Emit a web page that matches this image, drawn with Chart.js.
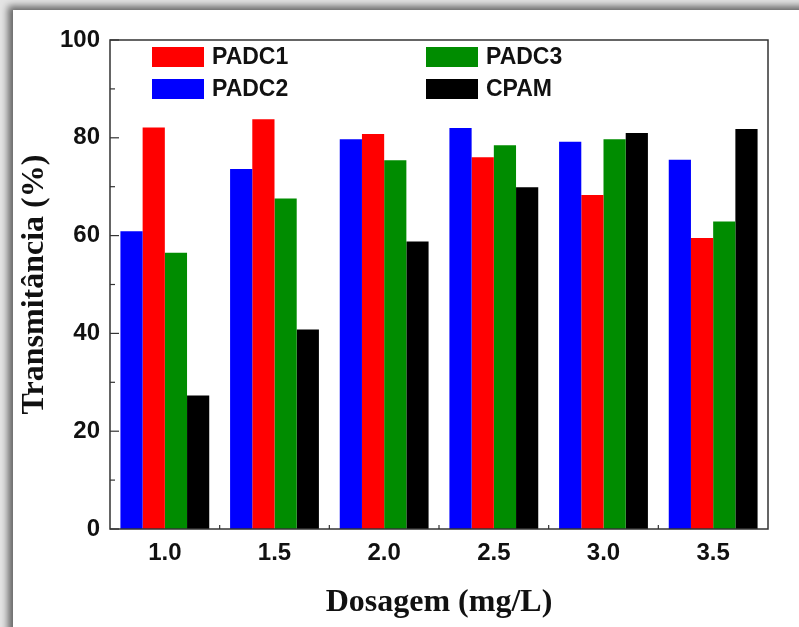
<!DOCTYPE html>
<html>
<head>
<meta charset="utf-8">
<script src="https://cdn.jsdelivr.net/npm/chart.js@4"></script>
<style>
  html, body { margin: 0; padding: 0; background: #e4e4e4; overflow: hidden; }
  #frame {
    position: absolute; left: 13px; top: 10px; width: 800px; height: 640px;
    background: #fff; box-shadow: -5px -4px 7px rgba(0,0,0,0.55);
  }
  #myChart { position: absolute; left: 0; top: 0; }
</style>
</head>
<body>
<div id="frame"></div>
<canvas id="myChart" width="799" height="627"></canvas>
<script>
var dosages = ['1.0', '1.5', '2.0', '2.5', '3.0', '3.5'];
var padc2 = [60.9, 73.6, 79.7, 82.0, 79.2, 75.5];
var padc1 = [82.1, 83.8, 80.8, 76.0, 68.3, 59.5];
var padc3 = [56.5, 67.6, 75.4, 78.5, 79.7, 62.9];
var cpam = [27.3, 40.8, 58.8, 69.9, 81.0, 81.8];
var legendOrder = ['PADC1', 'PADC2', 'PADC3', 'CPAM'];

// frame box, inward ticks and the two-column legend inside the plot
var framePlugin = {
    id: 'framePlugin',
    afterDatasetsDraw: function(chart) {
        var c = chart.ctx, a = chart.chartArea;
        var y = chart.scales.y, x = chart.scales.x;
        c.save();
        c.strokeStyle = '#333';
        c.lineWidth = 1.5;
        c.strokeRect(a.left, a.top, a.right - a.left, a.bottom - a.top);
        c.lineWidth = 1.2;
        for (var v = 0; v <= 100; v += 10) {
            var py = y.getPixelForValue(v);
            var len = v % 20 === 0 ? 9 : 5;
            c.beginPath();
            c.moveTo(a.left, py);
            c.lineTo(a.left + len, py);
            c.stroke();
        }
        for (var i = 0; i < dosages.length - 1; i++) {
            var px = (x.getPixelForValue(i) + x.getPixelForValue(i + 1)) / 2;
            c.beginPath();
            c.moveTo(px, a.bottom);
            c.lineTo(px, a.bottom - 4);
            c.stroke();
        }
        // legend
        c.font = 'bold 23px "Liberation Sans", Arial, sans-serif';
        c.textBaseline = 'middle';
        legendOrder.forEach(function(name, k) {
            var ds = chart.data.datasets.find(function(d) { return d.label === name; });
            var lx = k < 2 ? 152 : 426;
            var ly = k % 2 === 0 ? 47 : 79;
            c.fillStyle = ds.backgroundColor;
            c.fillRect(lx, ly, 52, 20);
            c.fillStyle = '#111';
            c.fillText(name, lx + 60, ly + 11);
        });
        c.restore();
    }
};

var tickFont = { family: '"Liberation Sans", Arial, sans-serif', size: 24, weight: 'bold' };
var titleFont = { family: '"Liberation Serif", "Times New Roman", serif', size: 32, weight: 'bold' };

var ctx = document.getElementById('myChart').getContext('2d');
var myChart = new Chart(ctx, {
    type: 'bar',
    data: {
        labels: dosages,
        datasets: [
            { label: 'PADC2', data: padc2, backgroundColor: '#0000ff' },
            { label: 'PADC1', data: padc1, backgroundColor: '#ff0000' },
            { label: 'PADC3', data: padc3, backgroundColor: '#008c00' },
            { label: 'CPAM', data: cpam, backgroundColor: '#000000' }
        ]
    },
    options: {
        responsive: false,
        animation: false,
        layout: { padding: { left: 14, top: 40, right: 31, bottom: 0 } },
        datasets: { bar: { categoryPercentage: 0.81, barPercentage: 1.0 } },
        plugins: {
            legend: { display: false },
            tooltip: { enabled: false }
        },
        scales: {
            x: {
                grid: { display: false, drawTicks: false },
                border: { display: false },
                ticks: { font: tickFont, color: '#111', padding: 10 },
                title: { display: true, text: 'Dosagem (mg/L)', font: titleFont, color: '#111', padding: { top: 0, bottom: 5 } },
                afterFit: function(s) { s.height = 98; }
            },
            y: {
                min: 0,
                max: 100,
                grid: { display: false, drawTicks: false },
                border: { display: false },
                ticks: {
                    stepSize: 10,
                    autoSkip: false,
                    font: tickFont,
                    color: '#111',
                    padding: 10,
                    callback: function(v) { return v % 20 === 0 ? v : ''; }
                },
                title: { display: true, text: 'Transmitância (%)', font: titleFont, color: '#111', padding: { top: 2, bottom: 0 } },
                afterFit: function(s) { s.width = 96; }
            }
        }
    },
    plugins: [framePlugin]
});
</script>
</body>
</html>
